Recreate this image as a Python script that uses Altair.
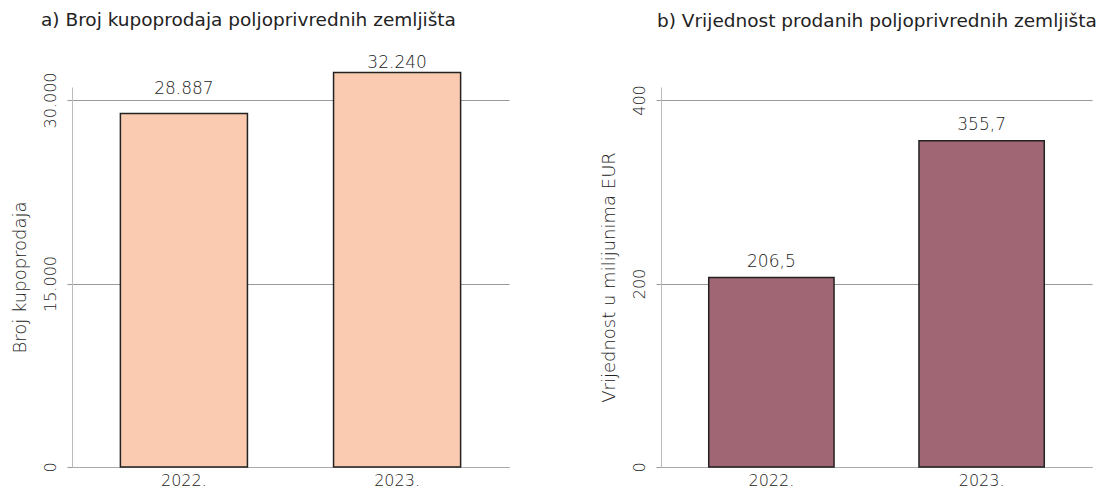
import altair as alt
import pandas as pd

years = ["2022.", "2023."]
broj = [28887, 32240]
vrijednost = [206.5, 355.7]
broj_labels = ["28.887", "32.240"]
vrij_labels = ["206,5", "355,7"]

FONT = "DejaVu Sans"
LIGHT = 200
TXT = "#222222"

df_a = pd.DataFrame({"godina": years, "v": broj, "lab": broj_labels})
df_b = pd.DataFrame({"godina": years, "v": vrijednost, "lab": vrij_labels})


def panel(df, title, ytitle, color, ymax, ticks, label_expr, title_dx, title_offset,
          width, label_dys):
    x = alt.X("godina:N", title=None,
              scale=alt.Scale(paddingInner=0.404, paddingOuter=0.227),
              axis=alt.Axis(labelAngle=0, ticks=False, domainColor="#aaaaaa",
                            labelFontSize=16, labelColor=TXT, labelPadding=5,
                            labelFontWeight=LIGHT))
    y = alt.Y("v:Q", title=ytitle,
              scale=alt.Scale(domain=[0, ymax], nice=False),
              axis=alt.Axis(values=ticks, labelExpr=label_expr, labelAngle=270,
                            labelAlign="center", labelBaseline="bottom",
                            labelFontSize=16, labelColor=TXT, labelPadding=9,
                            labelFontWeight=LIGHT,
                            tickColor="#999999", tickSize=5, domainColor="#bbbbbb",
                            gridColor="#999999", titleFontSize=18, titleFontWeight=LIGHT,
                            titleColor=TXT, titlePadding=13))
    bars = alt.Chart(df).mark_bar(color=color, stroke="#222222", strokeWidth=1.5).encode(x=x, y=y)
    layers = [bars]
    for yr, dy in zip(years, label_dys):
        layers.append(
            alt.Chart(df).transform_filter(alt.datum.godina == yr)
            .mark_text(dy=dy, fontSize=17, color=TXT, font=FONT, fontWeight=LIGHT)
            .encode(x="godina:N", y="v:Q", text="lab:N")
        )
    return alt.layer(*layers).properties(
        width=width, height=380,
        title=alt.TitleParams(title, anchor="start", frame="bounds", dx=title_dx,
                              offset=title_offset, fontSize=18.5,
                              fontWeight="normal", color="#222222", font=FONT))


left = panel(df_a, "a) Broj kupoprodaja poljoprivrednih zemljišta", "Broj kupoprodaja",
             "#FACBB1", 31063, [0, 15000, 30000],
             "replace(format(datum.value, ',d'), ',', '.')", 30, 24, 437, [-25, -10])
right = panel(df_b, "b) Vrijednost prodanih poljoprivrednih zemljišta", "Vrijednost u milijunima EUR",
              "#A06673", 414.2, [0, 200, 400], "format(datum.value, 'd')", 57, 54, 431, [-16, -16])

chart = (
    alt.hconcat(left, right, spacing=91)
    .properties(padding={"left": 2, "top": 3, "right": 5, "bottom": 5})
    .configure(font=FONT)
    .configure_view(stroke=None)
    .configure_axis(labelFont=FONT, titleFont=FONT)
)

chart.save("out.html", embed_options={"renderer": "svg", "actions": False})
